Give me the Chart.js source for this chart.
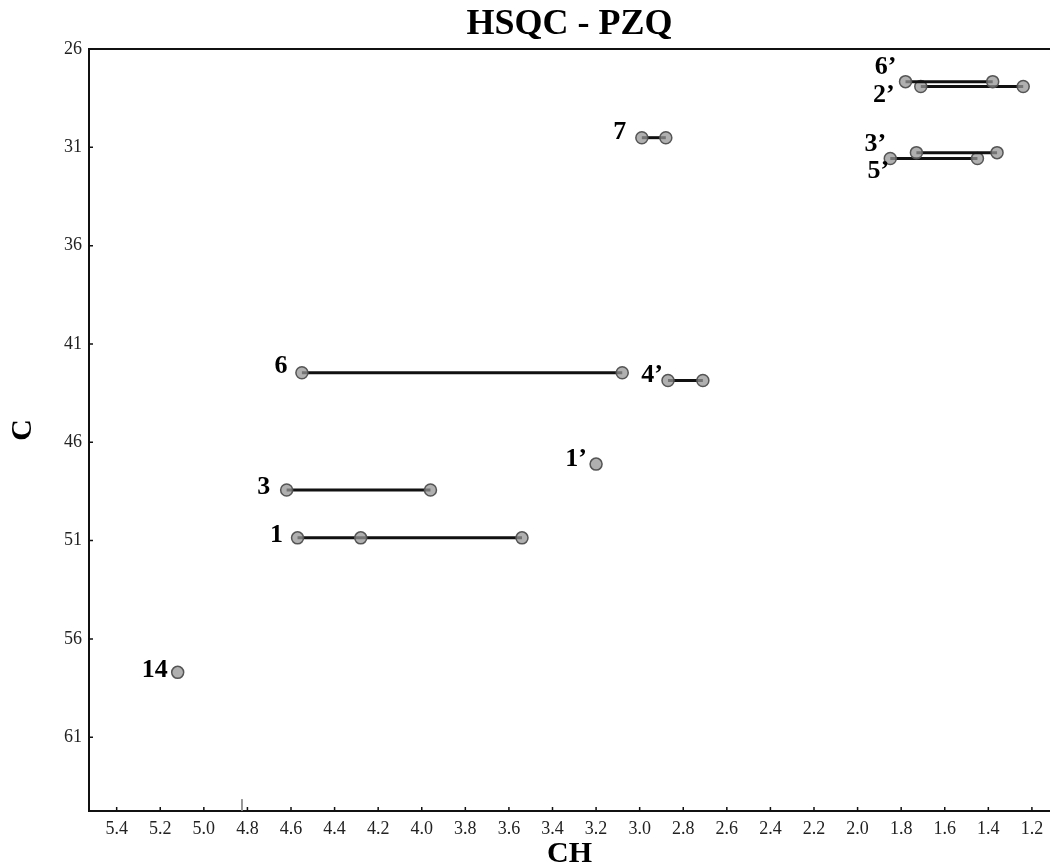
<!DOCTYPE html>
<html>
<head>
<meta charset="utf-8">
<script src="https://cdn.jsdelivr.net/npm/chart.js@4.4.1/dist/chart.umd.min.js"></script>
<style>
    body { margin: 0; background: #fff; }
    #chart-container { width: 1050px; height: 867px; }
</style>
</head>
<body>
<div id="chart-container"><canvas id="chart" width="1050" height="867"></canvas></div>
<script>
// sinais do HSQC: nome, deslocamentos de 1H (CH) e de 13C (C)
const signalNames = ['6’', '2’', '3’', '5’', '7', '6', '4’', '1’', '3', '1', '14']
const protonShifts = [
    [1.78, 1.38],
    [1.71, 1.24],
    [1.73, 1.36],
    [1.85, 1.45],
    [2.99, 2.88],
    [4.55, 3.08],
    [2.87, 2.71],
    [3.20],
    [4.62, 3.96],
    [4.57, 4.28, 3.54],
    [5.12]
]
const carbonShifts = [27.66, 27.91, 31.27, 31.57, 30.51, 42.46, 42.86, 47.11, 48.43, 50.86, 57.70]

// pequeno traço perto de 4.8 no rodapé
const artifactCH = [4.825, 4.825]
const artifactC = [64.15, 64.75]

const xTicks = [1.2, 1.4, 1.6, 1.8, 2.0, 2.2, 2.4, 2.6, 2.8, 3.0, 3.2, 3.4, 3.6, 3.8, 4.0, 4.2, 4.4, 4.6, 4.8, 5.0, 5.2, 5.4]
const yTicks = [26, 31, 36, 41, 46, 51, 56, 61]

const serif = '"Liberation Serif", "Times New Roman", serif'

// deslocamento (px) do rótulo em relação ao primeiro ponto do sinal
const labelOffsets = {
    '6’': [-20, -14], '2’': [-37, 9], '3’': [-41, -8], '5’': [-12, 13],
    '7': [-22, -5], '6': [-21, -6], '4’': [-16, -5], '1’': [-20, -5],
    '3': [-23, -3], '1': [-21, -3], '14': [-23, -2]
}

const datasets = signalNames.map((name, i) => ({
    label: name,
    data: protonShifts[i].map(h => ({ x: h, y: carbonShifts[i] })),
    borderColor: '#111',
    borderWidth: 3,
    pointRadius: 6,
    pointBackgroundColor: 'rgba(150,150,150,0.75)',
    pointBorderColor: '#555',
    pointBorderWidth: 1.5,
    showLine: true
}))
datasets.push({
    label: '',
    data: artifactCH.map((h, i) => ({ x: h, y: artifactC[i] })),
    borderColor: '#888',
    borderWidth: 1,
    pointRadius: 0,
    showLine: true
})

const peakLabels = {
    id: 'peakLabels',
    afterDatasetsDraw(chart) {
        const ctx = chart.ctx
        const xs = chart.scales.x
        const ys = chart.scales.y
        ctx.save()
        ctx.font = 'bold 26px ' + serif
        ctx.fillStyle = '#000'
        ctx.textAlign = 'center'
        ctx.textBaseline = 'middle'
        chart.data.datasets.forEach(ds => {
            if(!ds.label) return
            const p = ds.data[0]
            const off = labelOffsets[ds.label]
            ctx.fillText(ds.label, xs.getPixelForValue(p.x) + off[0], ys.getPixelForValue(p.y) + off[1])
        })
        ctx.restore()
    }
}

const frame = {
    id: 'frame',
    afterDraw(chart) {
        const ctx = chart.ctx
        const a = chart.chartArea
        ctx.save()
        ctx.strokeStyle = '#111'
        ctx.lineWidth = 2
        ctx.beginPath()
        ctx.moveTo(a.left, a.top)
        ctx.lineTo(a.right, a.top)
        ctx.stroke()
        // marcas de escala voltadas para dentro
        ctx.lineWidth = 1.5
        ctx.beginPath()
        xTicks.forEach(v => {
            const px = chart.scales.x.getPixelForValue(v)
            ctx.moveTo(px, a.bottom)
            ctx.lineTo(px, a.bottom - 4)
        })
        yTicks.forEach(v => {
            const py = chart.scales.y.getPixelForValue(v)
            ctx.moveTo(a.left, py)
            ctx.lineTo(a.left + 4, py)
        })
        ctx.stroke()
        ctx.restore()
    }
}

const context = document.getElementById('chart').getContext('2d')
const chart = new Chart(context, {
    type: 'scatter',
    data: { datasets: datasets },
    plugins: [peakLabels, frame],
    options: {
        responsive: false,
        animation: false,
        layout: { padding: 0, autoPadding: false },
        scales: {
            x: {
                type: 'linear',
                reverse: true,
                min: 1.117,
                max: 5.527,
                afterBuildTicks: scale => { scale.ticks = xTicks.map(v => ({ value: v })) },
                afterFit: scale => {
                    scale.height = 56
                    scale.paddingLeft = 0
                    scale.paddingRight = 0
                },
                grid: { drawOnChartArea: false, tickLength: 4, tickColor: 'rgba(0,0,0,0)' },
                border: { color: '#111', width: 2 },
                ticks: {
                    autoSkip: false,
                    maxRotation: 0,
                    padding: 3,
                    color: '#222',
                    font: { family: serif, size: 18 },
                    callback: v => Number(v).toFixed(1)
                },
                title: {
                    display: true,
                    text: 'CH',
                    color: '#000',
                    padding: 0,
                    font: { family: serif, size: 30, weight: 'bold', lineHeight: 0.85 }
                }
            },
            y: {
                type: 'linear',
                reverse: true,
                min: 26,
                max: 64.75,
                afterBuildTicks: scale => { scale.ticks = yTicks.map(v => ({ value: v })) },
                afterFit: scale => { scale.width = 89 },
                grid: { drawOnChartArea: false, tickLength: 4, tickColor: 'rgba(0,0,0,0)' },
                border: { color: '#111', width: 2 },
                ticks: {
                    autoSkip: false,
                    padding: 3,
                    color: '#222',
                    font: { family: serif, size: 18 }
                },
                title: {
                    display: true,
                    text: 'C',
                    color: '#000',
                    padding: { top: 5, bottom: 0 },
                    font: { family: serif, size: 30, weight: 'bold', lineHeight: 1.2 }
                }
            }
        },
        plugins: {
            legend: { display: false },
            tooltip: { enabled: false },
            title: {
                display: true,
                text: 'HSQC - PZQ',
                fullSize: false,
                color: '#000',
                padding: { top: 3, bottom: 2.8 },
                font: { family: serif, size: 36, weight: 'bold', lineHeight: 1.2 }
            }
        }
    }
})
</script>
</body>
</html>
